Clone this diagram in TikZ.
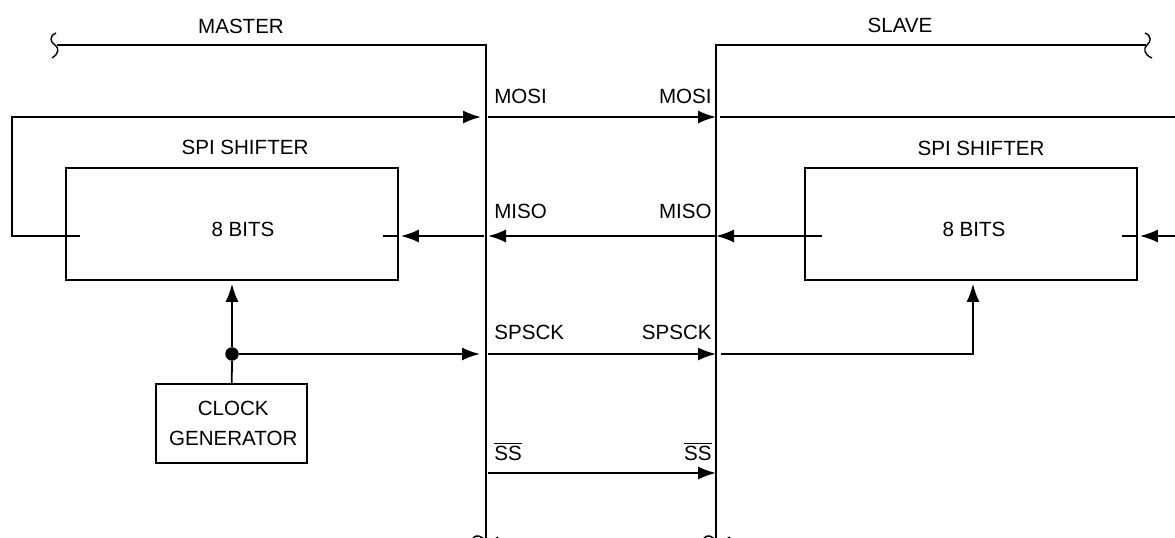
\documentclass[tikz,border=0pt]{standalone}
\usepackage{fontspec}
\setmainfont{Liberation Sans}
\usepackage{tikz}
\usetikzlibrary{arrows.meta,positioning,calc}
\tikzset{
  spibox/.style={draw=black, line width=1pt, inner sep=0pt, align=center, font=\fontsize{11.7pt}{17pt}\selectfont},
  spiline/.style={line width=1pt, black},
  spiarrow/.style={spiline, -{Latex[length=3.6mm, width=2.6mm]}},
  spilabel/.style={font=\fontsize{11.7pt}{14pt}\selectfont, inner sep=0pt},
  spidot/.style={circle, fill=black, inner sep=0pt, minimum size=2.7mm},
  spibreak/.style={line width=0.8pt, black},
}

\begin{document}
\begin{tikzpicture}[x=0.2mm, y=-0.2mm]
  \clip (0,0) rectangle (1175,538);
  % bus rails and rows
  \coordinate (mbus) at (486,45);
  \coordinate (sbus) at (716,45);
  \coordinate (mend) at (57,45);
  \coordinate (send) at (1146,45);
  \coordinate (bot) at (0,545);
  \coordinate (lloop) at (12,0);
  \coordinate (redge) at (1180,0);
  \coordinate (rmosi) at (0,117);
  \coordinate (rmiso) at (0,236);
  \coordinate (rsck) at (0,354);
  \coordinate (rss) at (0,473);

  % blocks
  \node[spibox, minimum width=66.4mm, minimum height=22.4mm] (mshift) at (232,224) {};
  \node[spibox, minimum width=66.4mm, minimum height=22.4mm] (sshift) at (971,224) {};
  \node[spibox, minimum width=30.2mm, minimum height=15.8mm] (clk) at (231.5,423.5) {\hspace*{0.7mm}CLOCK\\\hspace*{0.7mm}GENERATOR};
  \node[spidot] (clkdot) at (232,354) {};

  \node[spilabel, anchor=base] at ($(mshift.north)+(13,-13)$) {SPI SHIFTER};
  \node[spilabel, anchor=base] at ($(sshift.north)+(10,-12)$) {SPI SHIFTER};
  \node[spilabel, anchor=base] at ($(mshift.center)+(11,13)$) {8 BITS};
  \node[spilabel, anchor=base] at ($(sshift.center)+(3,13)$) {8 BITS};
  \node[spilabel, anchor=base] at (241,34) {MASTER};
  \node[spilabel, anchor=base] at (900,33) {SLAVE};

  % frame
  \draw[spiline] (mend) -- (mbus) -- (mbus |- bot);
  \draw[spiline] (send) -- (sbus) -- (sbus |- bot);
  \draw[spibreak] (56,33) .. controls (49,36) and (50,42) .. (55,45) .. controls (60,48) and (58,55) .. (52,58);
  \draw[spibreak] (1145,33) .. controls (1152,36) and (1151,42) .. (1147,45) .. controls (1143,48) and (1144,55) .. (1152,58);
  \draw[spibreak] (473,538) .. controls (477,534) and (481,536) .. (486,541) .. controls (491,546) and (494,539) .. (498,537);
  \draw[spibreak] (704,538) .. controls (708,534) and (712,536) .. (716,541) .. controls (721,546) and (725,539) .. (730,537);

  % signal labels
  \foreach \t/\y in {MOSI/104, MISO/219, SPSCK/340, {$\overline{\mbox{SS}}$}/460} {
    \node[spilabel, anchor=base west] at (494,\y) {\t};
    \node[spilabel, anchor=base east] at (712,\y) {\t};
  }

  % MOSI
  \draw[spiarrow, shorten >=1mm] ([xshift=3mm]mshift.west |- rmiso) -- (lloop |- rmiso) -- (lloop |- rmosi) -- (mbus |- rmosi);
  \draw[spiline, shorten <=0.8mm] (sbus |- rmosi) -- (redge |- rmosi);
  % MISO
  \draw[spiarrow, shorten >=0.4mm] (redge |- rmiso) -- (sshift.east |- rmiso);
  \draw[spiline] ([xshift=-3.2mm]sshift.east |- rmiso) -- (sshift.east |- rmiso);
  \draw[spiarrow] ([xshift=3.6mm]sshift.west |- rmiso) -- (sbus |- rmiso);
  \draw[spiarrow, shorten >=0.4mm] (sbus |- rmiso) -- (mbus |- rmiso);
  \draw[spiarrow, shorten <=0.4mm, shorten >=0.4mm] (mbus |- rmiso) -- (mshift.east |- rmiso);
  \draw[spiline] ([xshift=-3.2mm]mshift.east |- rmiso) -- (mshift.east |- rmiso);
  % SPSCK
  \draw[spiline] (clk) -- (clkdot);
  \draw[spiarrow, shorten >=0.6mm] (clkdot) -- (mshift.south);
  \draw[spiarrow, shorten >=1.2mm] (clkdot) -- (mbus |- rsck);
  \draw[spiarrow, shorten <=1mm, shorten >=0.6mm] (sbus |- rsck) -| ([xshift=0.4mm]sshift.south);
  % across the bus
  \foreach \r in {rmosi,rsck,rss}
    \draw[spiarrow, shorten <=0.4mm] (mbus |- \r) -- (sbus |- \r);
\end{tikzpicture}
\end{document}
